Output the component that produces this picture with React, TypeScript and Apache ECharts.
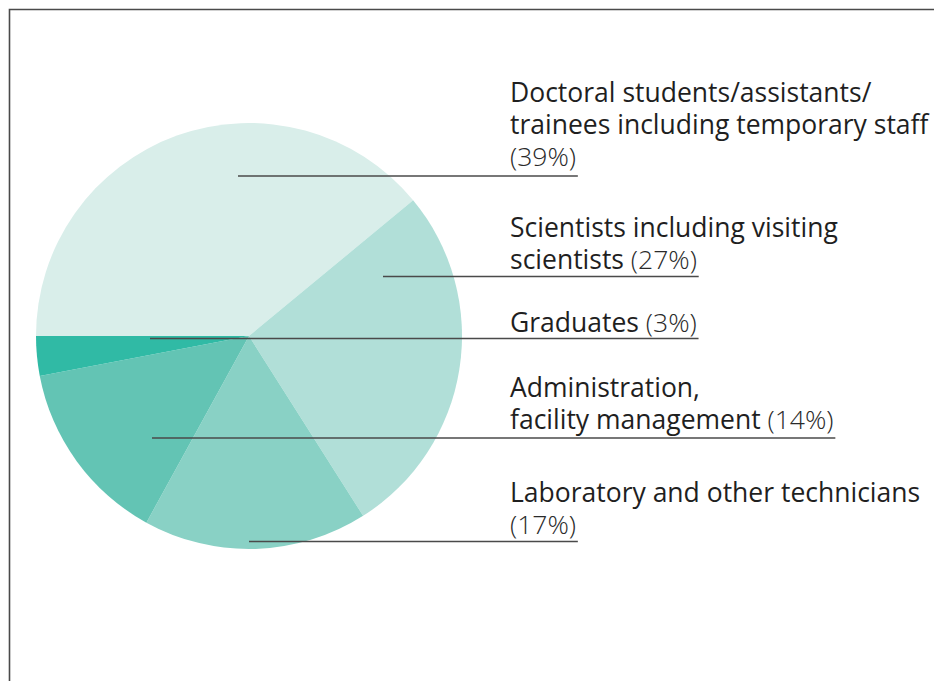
import React, { useEffect, useRef } from "react";
import * as echarts from "echarts";

const categories = [
  "Doctoral students/assistants/\ntrainees including temporary staff\n",
  "Scientists including visiting\nscientists",
  "Laboratory and other technicians\n",
  "Administration,\nfacility management",
  "Graduates",
];
const values = [39, 27, 17, 14, 3];
const colors = ["#d9eeea", "#b1dfd8", "#89d1c5", "#63c4b4", "#30baa5"];

// label layout: leader-line anchors inside slices, leader-line heights, baseline of last text line
const anchorX = [238, 383, 249, 152, 150];
const lineY = [176, 276.5, 541.5, 438, 338.5];
const lastBaseline = [166.5, 269.5, 534.3, 429, 331.7];
const TEXT_X = 510;
const FONT_SIZE = 26.5;
const LINE_H = 32.3;
const FONT_FAMILY = '"Open Sans", "Noto Sans", sans-serif';

function lastLineText(name: string, v: number) {
  const parts = name.split("\n");
  const last = parts[parts.length - 1];
  return (last ? last + " " : "") + "(" + v + "%)";
}

export default function App() {
  const ref = useRef<HTMLDivElement>(null);
  useEffect(() => {
    if (!ref.current) return;
    const chart = echarts.init(ref.current, undefined, { renderer: "svg" });
    const canvas = document.createElement("canvas");
    const ctx = canvas.getContext("2d")!;
    ctx.font = `${FONT_SIZE}px ${FONT_FAMILY}`;
    const lastWidths = categories.map((c, i) => ctx.measureText(lastLineText(c, values[i])).width);

    const pieData = categories.map((c, i) => ({
      name: c,
      value: values[i],
      itemStyle: { color: colors[i] },
    }));
    const base = {
      type: "pie",
      center: [249, 336],
      radius: 213,
      startAngle: 180,
      clockwise: true,
      avoidLabelOverlap: false,
    };

    chart.setOption({
      animation: false,
      graphic: [
        {
          type: "rect",
          shape: { x: 9.5, y: 9.5, width: 1200, height: 1200 },
          style: { fill: "none", stroke: "#4a4a4a", lineWidth: 1.6 },
          silent: true,
        },
      ],
      series: [
        {
          ...base,
          z: 2,
          data: pieData,
          label: { show: false },
          labelLine: { show: false },
        },
        {
          ...base,
          z: 5,
          silent: true,
          data: pieData.map((d) => ({ ...d, itemStyle: { color: "rgba(0,0,0,0)" } })),
          label: {
            show: true,
            position: "outside",
            opacity: 1,
            formatter: (p: any) => {
              const parts: string[] = p.name.split("\n");
              const last = parts.pop() as string;
              const lines = parts.map((s) => `{n|${s}}`);
              const pct = `{p|(${p.value}%)}`;
              lines.push(last ? `{n|${last} }${pct}` : pct);
              return lines.join("\n");
            },
            rich: {
              n: { fontSize: FONT_SIZE, fontFamily: FONT_FAMILY, color: "#1f1f1f", lineHeight: LINE_H },
              p: { fontSize: FONT_SIZE, fontFamily: FONT_FAMILY, color: "#2a2a2a", lineHeight: LINE_H, fontWeight: 300 },
            },
          },
          labelLine: {
            show: true,
            showAbove: true,
            length: 10,
            length2: 10,
            lineStyle: { color: "#4a4a4a", width: 1.5, opacity: 1 },
          },
          labelLayout: (params: any) => {
            const i = params.dataIndex;
            const y = lineY[i];
            return {
              x: TEXT_X,
              y: lastBaseline[i] + 6,
              align: "left",
              verticalAlign: "bottom",
              labelLinePoints: [
                [anchorX[i], y],
                [TEXT_X, y],
                [TEXT_X + lastWidths[i], y],
              ],
            };
          },
        },
      ],
    });
    return () => chart.dispose();
  }, []);
  return (
    <div
      ref={ref}
      style={{ position: "absolute", left: 0, top: 0, width: 934, height: 681, background: "#fff" }}
    />
  );
}
